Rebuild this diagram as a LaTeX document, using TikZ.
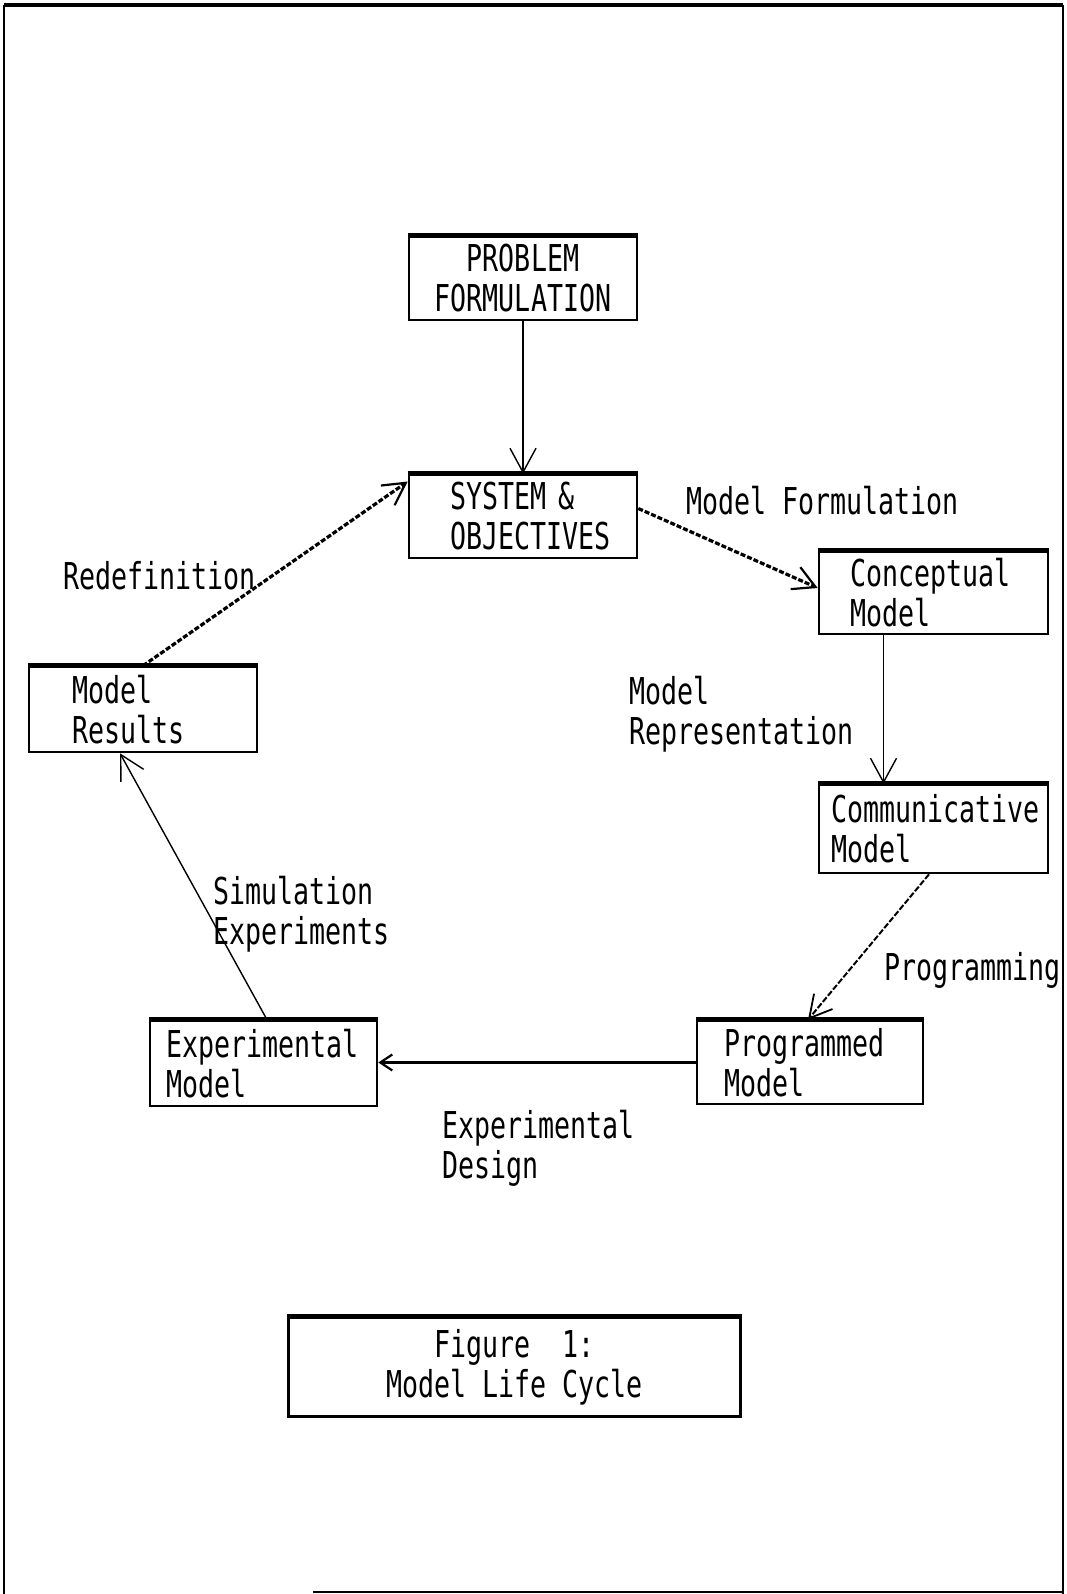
\documentclass[tikz,border=0pt]{standalone}
\usepackage{fontspec}
\newfontfamily\dotfont[FakeStretch=0.72]{DejaVu Sans Mono}
\usetikzlibrary{arrows.meta}
\begin{document}
\begin{tikzpicture}[x=1pt,y=-1pt,
  font=\dotfont\fontsize{37}{40}\selectfont,
  box/.style={draw,line width=2.6pt,inner xsep=0pt,inner ysep=0pt,align=left},
  cbox/.style={draw,line width=2.6pt,inner sep=0pt,align=center},
  lab/.style={inner sep=0pt,anchor=north west,align=left},
  topedge/.style={line width=4.5pt},
  tip/.style={-{Straight Barb[length=24pt,width=26pt,line width=1.4pt]}},
  thinline/.style={line width=1.4pt,tip},
  dotline/.style={line width=3.2pt,dash pattern=on 5pt off 2pt,
    -{Straight Barb[length=22pt,width=24pt,line width=2.2pt]}},
  solidline/.style={line width=3.2pt,-{Straight Barb[length=12pt,width=16pt,line width=2.2pt]}}
]
\useasboundingbox (0,0) rectangle (1067,1594);
% frame
\draw[line width=4.5pt] (4,5) -- (1063,5);
\draw[line width=2pt] (4,5) -- (4,1594);
\draw[line width=1.6pt] (1063,5) -- (1063,1594);
\draw[line width=1.6pt] (313,1592) -- (1063,1592);

% boxes
\node[cbox,minimum width=228pt,minimum height=83pt] (pf) at (523,278.5) {PROBLEM\\FORMULATION};
\node[box,minimum width=228pt,minimum height=83pt,text width=146pt] (so) at (523,516.5) {SYSTEM \&\\OBJECTIVES};
\node[box,minimum width=229pt,minimum height=82pt,text width=167pt] (cm) at (933.5,593) {Conceptual\\Model};
\node[box,minimum width=229pt,minimum height=88pt,text width=205pt] (com) at (933.5,829) {Communicative\\Model};
\node[box,minimum width=226pt,minimum height=83pt,text width=172pt] (pm) at (810,1062.5) {Programmed\\Model};
\node[box,minimum width=227pt,minimum height=85pt,text width=195pt] (em) at (263.5,1063.5) {Experimental\\Model};
\node[box,minimum width=228pt,minimum height=85pt,text width=142pt] (mr) at (143,709.5) {Model\\Results};
\node[cbox,minimum width=452pt,minimum height=99pt] (fig) at (514.5,1367) {Figure\ \ 1:\\Model Life Cycle};

% thicker top edges, as printed
\foreach \b in {pf,so,cm,com,pm,em,mr,fig}
  \draw[topedge] (\b.north west) -- (\b.north east);

% labels
\node[lab] (l1) at (686,486) {Model Formulation};
\node[lab] (l2) at (63,561) {Redefinition};
\node[lab] (l3) at (629,676) {Model\\Representation};
\node[lab] (l4) at (213,876) {Simulation\\Experiments};
\node[lab] (l5) at (884,952) {Programming};
\node[lab] (l6) at (442,1110) {Experimental\\Design};

% connectors
\draw[thinline] (pf.south) -- (so.north);
\draw[dotline] ([yshift=8pt]so.east) -- ([yshift=5pt]cm.west);
\draw[thinline] ([xshift=-50pt]cm.south) -- ([xshift=-50pt]com.north);
\draw[line width=2pt,dash pattern=on 6pt off 2pt,
  -{Straight Barb[length=22pt,width=24pt,line width=1.8pt]}]
  ([xshift=-4.5pt]com.south) -- ([xshift=-2pt]pm.north);
\draw[solidline] (pm.west) -- (pm.west -| em.east);
\draw[thinline] ([xshift=3.5pt]em.north) -- ([xshift=-23pt]mr.south);
\draw[dotline] (mr.north) -- ([yshift=35pt]so.west);
\end{tikzpicture}
\end{document}
